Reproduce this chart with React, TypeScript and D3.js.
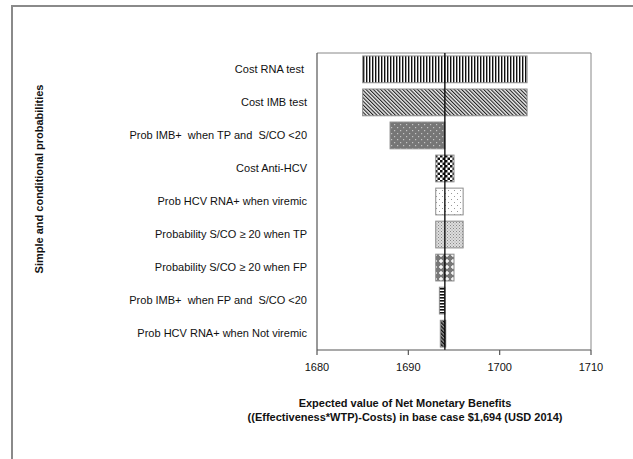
import * as d3 from 'd3';
import React from 'react';

const categories = [
  'Cost RNA test ',
  'Cost IMB test',
  'Prob IMB+  when TP and  S/CO <20',
  'Cost Anti-HCV',
  'Prob HCV RNA+ when viremic',
  'Probability S/CO \u2265 20 when TP',
  'Probability S/CO \u2265 20 when FP',
  'Prob IMB+  when FP and  S/CO <20',
  'Prob HCV RNA+ when Not viremic',
];
const lowValues = [1685, 1685, 1688, 1693, 1693, 1693, 1693, 1693.4, 1693.5];
const highValues = [1703, 1703, 1694, 1695, 1696, 1696, 1695, 1694, 1694.1];
const baseValue = 1694;
const xTicks = [1680, 1690, 1700, 1710];
const patternIds = ['vert', 'diag', 'darkdots', 'checker', 'sparsedots', 'densedots', 'plus', 'horiz', 'darkdiag'];

const FONT = '"Liberation Sans", Arial, sans-serif';

function Patterns() {
  return (
    <defs>
      <pattern id="vert" width="3" height="3" patternUnits="userSpaceOnUse">
        <rect width="3" height="3" fill="#fff" />
        <rect x="0" width="1.4" height="3" fill="#111" />
      </pattern>
      <pattern id="diag" width="2.6" height="2.6" patternUnits="userSpaceOnUse" patternTransform="rotate(-45)">
        <rect width="2.6" height="2.6" fill="#eee" />
        <rect x="0" width="1.1" height="2.6" fill="#222" />
      </pattern>
      <pattern id="darkdots" width="6" height="6" patternUnits="userSpaceOnUse">
        <rect width="6" height="6" fill="#767676" />
        <rect x="1" y="1" width="1.2" height="1.2" fill="#c4c4c4" />
        <rect x="4" y="4" width="1.2" height="1.2" fill="#c4c4c4" />
      </pattern>
      <pattern id="checker" width="5" height="5" patternUnits="userSpaceOnUse">
        <rect width="5" height="5" fill="#fff" />
        <rect x="0" y="0" width="2.5" height="2.5" fill="#111" />
        <rect x="2.5" y="2.5" width="2.5" height="2.5" fill="#111" />
      </pattern>
      <pattern id="sparsedots" width="6" height="6" patternUnits="userSpaceOnUse">
        <rect width="6" height="6" fill="#fff" />
        <rect x="1" y="1" width="1" height="1" fill="#999" />
        <rect x="4" y="4" width="1" height="1" fill="#999" />
      </pattern>
      <pattern id="densedots" width="3" height="3" patternUnits="userSpaceOnUse">
        <rect width="3" height="3" fill="#ddd" />
        <rect x="0" y="0" width="1" height="1" fill="#888" />
        <rect x="1.5" y="1.5" width="1" height="1" fill="#999" />
      </pattern>
      <pattern id="plus" width="6" height="6" patternUnits="userSpaceOnUse">
        <rect width="6" height="6" fill="#777" />
        <path d="M3,1 V5 M1,3 H5" stroke="#fff" strokeWidth="1.4" />
      </pattern>
      <pattern id="horiz" width="3" height="3" patternUnits="userSpaceOnUse">
        <rect width="3" height="3" fill="#fff" />
        <rect y="0" width="3" height="1.6" fill="#111" />
      </pattern>
      <pattern id="darkdiag" width="2.6" height="2.6" patternUnits="userSpaceOnUse" patternTransform="rotate(-45)">
        <rect width="2.6" height="2.6" fill="#999" />
        <rect x="0" width="1.3" height="2.6" fill="#111" />
      </pattern>
    </defs>
  );
}

export default function App() {
  const width = 633;
  const height = 459;
  const plot = { left: 317, right: 591, top: 53, bottom: 350 };

  const x = d3.scaleLinear().domain([1680, 1710]).range([plot.left, plot.right]);
  const y = d3
    .scaleBand<string>()
    .domain(categories)
    .range([plot.top, plot.bottom])
    .paddingInner(0.19)
    .paddingOuter(0.09);

  return (
    <div style={{ position: 'fixed', left: 0, top: 0 }}>
      <svg width={width} height={height} style={{ display: 'block', fontFamily: FONT }}>
        <Patterns />
        <rect width={width} height={height} fill="#fff" />
        {/* outer frame */}
        <path d={`M12,${height} V6 H${width}`} fill="none" stroke="#8a8a8a" strokeWidth={2} />

        {/* plot box top/right */}
        <path
          d={`M${plot.left},${plot.top} H${plot.right} V${plot.bottom}`}
          fill="none"
          stroke="#888"
          strokeWidth={1}
        />

        {/* bars */}
        {categories.map((c, i) => (
          <rect
            key={c}
            x={x(lowValues[i])}
            y={y(c)}
            width={x(highValues[i]) - x(lowValues[i])}
            height={y.bandwidth()}
            fill={`url(#${patternIds[i]})`}
            stroke="#8c8c8c"
            strokeWidth={1}
          />
        ))}

        {/* base case line */}
        <line x1={x(baseValue)} x2={x(baseValue)} y1={plot.top} y2={plot.bottom} stroke="#000" strokeWidth={1.3} />

        {/* axes */}
        <line x1={plot.left} x2={plot.left} y1={plot.top} y2={plot.bottom} stroke="#555" strokeWidth={1.2} />
        <line x1={plot.left} x2={plot.right} y1={plot.bottom} y2={plot.bottom} stroke="#555" strokeWidth={1.2} />
        {xTicks.map(t => (
          <g key={t}>
            <line x1={x(t)} x2={x(t)} y1={plot.bottom} y2={plot.bottom + 5} stroke="#555" strokeWidth={1.2} />
            <text x={x(t)} y={plot.bottom + 21} textAnchor="middle" fontSize={11} fill="#111">
              {t}
            </text>
          </g>
        ))}

        {/* category labels */}
        {categories.map(c => (
          <text
            key={c}
            x={307}
            y={(y(c) as number) + y.bandwidth() / 2}
            dy="0.35em"
            textAnchor="end"
            fontSize={11}
            fill="#111"
            style={{ whiteSpace: 'pre' }}
          >
            {c}
          </text>
        ))}

        {/* axis titles */}
        <text
          transform="translate(43,179) rotate(-90)"
          textAnchor="middle"
          fontSize={11}
          fontWeight="bold"
          fill="#111"
        >
          Simple and conditional probabilities
        </text>
        <text x={405} y={407} textAnchor="middle" fontSize={11} fontWeight="bold" fill="#111">
          Expected value of Net Monetary Benefits
        </text>
        <text x={405} y={421} textAnchor="middle" fontSize={11} fontWeight="bold" fill="#111">
          ((Effectiveness*WTP)-Costs) in base case $1,694 (USD 2014)
        </text>
      </svg>
    </div>
  );
}
